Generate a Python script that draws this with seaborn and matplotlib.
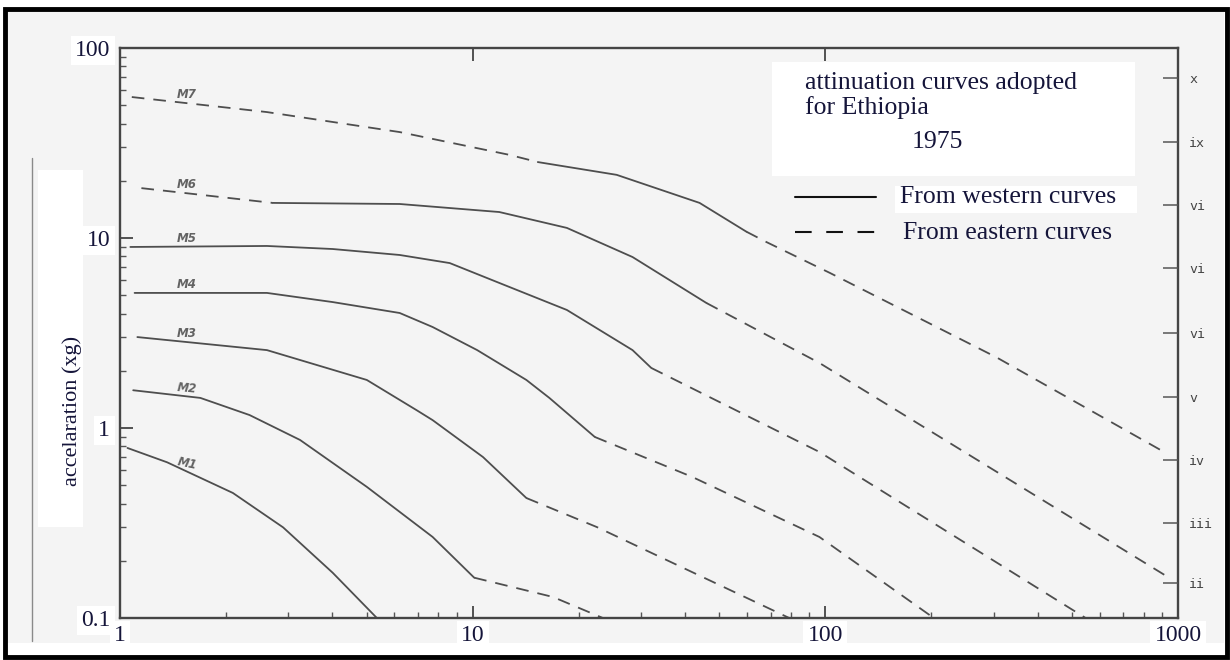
import numpy as np
import pandas as pd
import matplotlib
matplotlib.use("Agg")
import matplotlib.pyplot as plt
import seaborn as sns
from matplotlib.patches import Rectangle
from matplotlib.lines import Line2D
from matplotlib.ticker import NullLocator, LogLocator, FixedLocator

# ---------------- data ----------------
# epicentral distance (km) vs acceleration (xg), per magnitude
m1_west_dist = [1.05, 1.36, 2.09, 2.90, 4.01, 5.35]
m1_west_acc = [0.785, 0.66, 0.455, 0.30, 0.173, 0.10]

m2_west_dist = [1.09, 1.69, 2.33, 3.24, 5.01, 7.7, 10.1]
m2_west_acc = [1.58, 1.44, 1.17, 0.865, 0.49, 0.267, 0.163]
m2_east_dist = [10.1, 16.9, 23.4]
m2_east_acc = [0.163, 0.129, 0.10]

m3_west_dist = [1.12, 2.61, 5.01, 6.94, 7.7, 10.7, 14.2]
m3_west_acc = [3.01, 2.57, 1.79, 1.24, 1.10, 0.703, 0.428]
m3_east_dist = [14.2, 22.5, 79.0]
m3_east_acc = [0.428, 0.301, 0.10]

m4_west_dist = [1.10, 2.61, 4.01, 6.21, 7.7, 10.3, 14.2, 16.5, 22.2]
m4_west_acc = [5.14, 5.14, 4.6, 4.03, 3.40, 2.57, 1.79, 1.44, 0.897]
m4_east_dist = [22.2, 42.0, 96.2, 203.0]
m4_east_acc = [0.897, 0.552, 0.267, 0.10]

m5_west_dist = [1.07, 2.61, 4.01, 6.21, 8.61, 11.9, 18.5, 28.4, 32.1]
m5_west_acc = [8.97, 9.08, 8.75, 8.14, 7.38, 5.80, 4.18, 2.57, 2.07]
m5_east_dist = [32.1, 96.2, 547.0]
m5_east_acc = [2.07, 0.748, 0.10]

m6_east1_dist = [1.15, 2.71]
m6_east1_acc = [18.3, 15.3]
m6_west_dist = [2.71, 6.21, 11.9, 18.5, 28.4, 46.0]
m6_west_acc = [15.3, 15.1, 13.7, 11.3, 7.94, 4.55]
m6_east2_dist = [46.0, 96.2, 943.0]
m6_east2_acc = [4.55, 2.2, 0.163]

m7_east1_dist = [1.08, 2.61, 6.21, 12.7, 15.3]
m7_east1_acc = [55.2, 46.0, 36.1, 27.4, 25.1]
m7_west_dist = [15.3, 25.6, 44.0, 59.7]
m7_west_acc = [25.1, 21.5, 15.3, 10.8]
m7_east2_dist = [59.7, 68.0, 103.0, 305.0, 913.0]
m7_east2_acc = [10.8, 9.53, 6.55, 2.36, 0.748]

magnitudes = ["M1", "M2", "M3", "M4", "M5", "M6", "M7"]

# Modified Mercalli intensity scale on the right axis
mmi_labels = ["x", "ix", "vi", "vi", "vi", "v", "iv", "iii", "ii"]
mmi_acc = [69.5, 32.0, 14.9, 6.95, 3.16, 1.45, 0.68, 0.316, 0.153]

x_ticks = [1, 10, 100, 1000]
x_tick_labels = ["1", "10", "100", "1000"]
y_ticks = [0.1, 1, 10, 100]
y_tick_labels = ["0.1", "1", "10", "100"]

segments = [
    ("M1", "western", m1_west_dist, m1_west_acc),
    ("M2", "western", m2_west_dist, m2_west_acc),
    ("M2", "eastern", m2_east_dist, m2_east_acc),
    ("M3", "western", m3_west_dist, m3_west_acc),
    ("M3", "eastern", m3_east_dist, m3_east_acc),
    ("M4", "western", m4_west_dist, m4_west_acc),
    ("M4", "eastern", m4_east_dist, m4_east_acc),
    ("M5", "western", m5_west_dist, m5_west_acc),
    ("M5", "eastern", m5_east_dist, m5_east_acc),
    ("M6", "eastern", m6_east1_dist, m6_east1_acc),
    ("M6", "western", m6_west_dist, m6_west_acc),
    ("M6", "eastern", m6_east2_dist, m6_east2_acc),
    ("M7", "eastern", m7_east1_dist, m7_east1_acc),
    ("M7", "western", m7_west_dist, m7_west_acc),
    ("M7", "eastern", m7_east2_dist, m7_east2_acc),
]

frames = []
for i, (mag, src, d, a) in enumerate(segments):
    frames.append(pd.DataFrame({"magnitude": mag, "source": src, "segment": i,
                                "distance": d, "acceleration": a}))
df = pd.concat(frames, ignore_index=True)

# ---------------- style ----------------
sns.set_style("ticks")
plt.rcParams["font.family"] = ["Liberation Serif", "DejaVu Serif"]

W, H = 1230, 660
TXT = "#15153a"
LINE = "#4e4e4e"
PAGE = "#f4f4f4"

fig = plt.figure(figsize=(W / 100, H / 100), dpi=100)
fig.patch.set_facecolor("white")


def fbox(x0, y0, x1, y1, **kw):
    return Rectangle((x0 / W, 1 - y1 / H), (x1 - x0) / W, (y1 - y0) / H,
                     transform=fig.transFigure, **kw)


# scanned page background and outer frame
fig.patches.append(fbox(8, 10, 1224, 643, facecolor=PAGE, edgecolor="none", zorder=-2))
fig.patches.append(fbox(5, 9, 1227, 657, fill=False, edgecolor="black", lw=3.5, zorder=10))
fig.add_artist(Line2D([32 / W, 32 / W], [1 - 641 / H, 1 - 158 / H], color="#8a8a8a", lw=1.0, zorder=-1))

ax = fig.add_axes([120 / W, 1 - 618 / H, 1058 / W, 570 / H])
ax.set_facecolor(PAGE)

sns.lineplot(data=df, x="distance", y="acceleration", units="segment", estimator=None,
             style="source", dashes={"western": "", "eastern": (7, 5)},
             color=LINE, lw=1.3, sort=False, legend=False, ax=ax)

ax.set_xscale("log")
ax.set_yscale("log")
ax.set_xlim(1, 1000)
ax.set_ylim(0.1, 100)
ax.set_xlabel("")
ax.set_ylabel("")

ax.xaxis.set_major_locator(FixedLocator(x_ticks))
ax.set_xticklabels(x_tick_labels)
ax.yaxis.set_major_locator(FixedLocator(y_ticks))
ax.set_yticklabels(y_tick_labels)
ax.xaxis.set_minor_locator(LogLocator(base=10, subs=np.arange(2, 10)))
ax.yaxis.set_minor_locator(LogLocator(base=10, subs=np.arange(2, 10)))

ax.tick_params(axis="both", which="major", direction="in", length=9, width=1.3,
               color="#444444", labelsize=17, labelcolor=TXT, pad=7)
ax.tick_params(axis="both", which="minor", direction="in", length=4, width=1.0, color="#555555")
ax.tick_params(axis="x", which="major", top=True)
ax.tick_params(axis="x", which="minor", top=False)
ax.tick_params(axis="y", which="both", right=False)
ax.tick_params(axis="x", which="major", pad=5)

for sp in ax.spines.values():
    sp.set_visible(True)
    sp.set_color("#454545")
    sp.set_linewidth(1.7)

# right axis: intensity
ax2 = ax.twinx()
ax2.set_yscale("log")
ax2.set_ylim(0.1, 100)
ax2.yaxis.set_major_locator(FixedLocator(mmi_acc))
ax2.yaxis.set_minor_locator(NullLocator())
ax2.set_yticklabels(mmi_labels, fontfamily="DejaVu Sans Mono")
ax2.tick_params(axis="y", direction="in", length=11, width=1.1, color="#555555",
                labelsize=9.5, labelcolor="#444444", pad=8)
for sp in ax2.spines.values():
    sp.set_visible(False)

# magnitude labels near the left end of each curve
label_x = 1.55
rot = {"M1": -12, "M2": -5}
for mag in magnitudes:
    first = df[(df.magnitude == mag)]
    seg0 = first[first.segment == first.segment.min()]
    ly = 10 ** np.interp(np.log10(label_x), np.log10(seg0.distance), np.log10(seg0.acceleration))
    ax.annotate(mag, (label_x, ly), xytext=(0, 6), textcoords="offset points",
                ha="center", va="center", fontsize=8.5, fontstyle="italic", fontweight="bold",
                color="#636363", family=["DejaVu Sans"], rotation=rot.get(mag, 0))

# white patches behind pasted texts
for lab in ax.get_xticklabels() + ax.get_yticklabels():
    lab.set_bbox(dict(facecolor="white", edgecolor="none", pad=3))

fig.patches.append(fbox(38, 170, 83, 527, facecolor="white", edgecolor="none", zorder=1))
fig.patches.append(fbox(772, 62, 1135, 176, facecolor="white", edgecolor="none", zorder=1))
fig.patches.append(fbox(895, 186, 1137, 213, facecolor="white", edgecolor="none", zorder=1))

fig.text(72 / W, 1 - 411 / H, "accelaration (xg)", rotation=90, ha="center", va="center",
         fontsize=16, color=TXT, zorder=5)

# legend block
FS = 18.5
fig.text(805 / W, 1 - 89 / H, "attinuation curves adopted", fontsize=FS, color=TXT, va="baseline", zorder=5)
fig.text(805 / W, 1 - 114 / H, "for Ethiopia", fontsize=FS, color=TXT, va="baseline", zorder=5)
fig.text(937 / W, 1 - 148 / H, "1975", fontsize=FS, color=TXT, ha="center", va="baseline", zorder=5)
fig.add_artist(Line2D([795 / W, 876 / W], [1 - 197 / H] * 2, color="#111111", lw=1.5, zorder=5))
fig.add_artist(Line2D([795 / W, 881 / W], [1 - 232 / H] * 2, color="#111111", lw=1.5,
                      linestyle=(0, (8, 7)), zorder=5))
fig.text(900 / W, 1 - 203 / H, "From western curves", fontsize=FS, color=TXT, va="baseline", zorder=5)
fig.text(903 / W, 1 - 239 / H, "From eastern curves", fontsize=FS, color=TXT, va="baseline", zorder=5)

fig.savefig("out.png", dpi=100, facecolor=fig.get_facecolor())
